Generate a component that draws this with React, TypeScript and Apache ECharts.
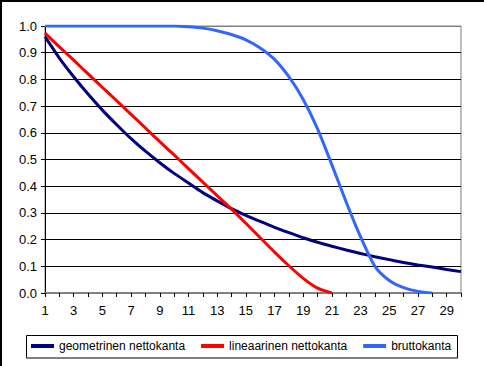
import React, { useEffect, useRef } from "react";
import * as echarts from "echarts";

const categories = Array.from({ length: 30 }, (_, i) => String(i + 1));

const geometrinen = [
  0.96, 0.88, 0.81, 0.745, 0.685, 0.63, 0.578, 0.531, 0.488, 0.448,
  0.412, 0.376, 0.345, 0.316, 0.291, 0.268, 0.246, 0.226, 0.207, 0.19,
  0.175, 0.161, 0.148, 0.136, 0.125, 0.114, 0.105, 0.097, 0.088, 0.08,
];

const lineaarinen = [
  0.973, 0.922, 0.872, 0.821, 0.77, 0.72, 0.669, 0.618, 0.567, 0.517,
  0.466, 0.415, 0.365, 0.314, 0.261, 0.207, 0.153, 0.102, 0.055, 0.018,
  0.0, null, null, null, null, null, null, null, null, null,
];

const brutto = [
  1, 1, 1, 1, 1, 1, 1, 1, 1, 1,
  0.997, 0.992, 0.982, 0.968, 0.948, 0.918, 0.875, 0.81, 0.725, 0.615,
  0.48, 0.34, 0.21, 0.1, 0.047, 0.02, 0.006, 0.0, null, null,
];

const seriesNames = ["geometrinen nettokanta", "lineaarinen nettokanta", "bruttokanta"];
const colors = ["#000080", "#FF0000", "#3366FF"];

const FONT = 'Arial, "Liberation Sans", sans-serif';

export default function App() {
  const ref = useRef<HTMLDivElement>(null);
  useEffect(() => {
    if (!ref.current) return;
    const chart = echarts.init(ref.current, undefined, { renderer: "svg" });
    const gridColors = Array.from({ length: 11 }, (_, i) => (i === 10 ? "#808080" : "#000000"));
    chart.setOption({
      animation: false,
      backgroundColor: "#ffffff",
      grid: {
        left: 45,
        top: 26,
        right: 23,
        bottom: 73,
        show: true,
        borderColor: "#808080",
        borderWidth: 1,
        containLabel: false,
      },
      legend: {
        left: 31,
        top: 340,
        padding: 0,
        itemWidth: 23,
        itemHeight: 4,
        itemGap: 16,
        icon: "rect",
        data: seriesNames,
        textStyle: { fontSize: 12, fontFamily: FONT, color: "#000" },
      },
      graphic: [
        {
          type: "rect",
          shape: { x: 1, y: 1, width: 1000, height: 1000 },
          style: { fill: "none", stroke: "#000", lineWidth: 2 },
          silent: true,
        },
        {
          type: "rect",
          shape: { x: 26.5, y: 335.5, width: 431, height: 22.5 },
          style: { fill: "none", stroke: "#000", lineWidth: 1 },
          silent: true,
        },
      ],
      xAxis: {
        type: "category",
        data: categories,
        boundaryGap: false,
        axisLine: { show: true, lineStyle: { color: "#808080", width: 2 } },
        axisTick: { show: true, interval: 0, length: 4, lineStyle: { color: "#000" } },
        axisLabel: {
          interval: 1,
          fontSize: 13,
          fontFamily: FONT,
          color: "#000",
          margin: 11,
        },
        splitLine: { show: false },
      },
      yAxis: {
        type: "value",
        min: 0,
        max: 1,
        interval: 0.1,
        axisLine: { show: true, lineStyle: { color: "#000", width: 1 } },
        axisTick: { show: true, length: 4, lineStyle: { color: "#000" } },
        axisLabel: {
          fontSize: 13,
          fontFamily: FONT,
          color: "#000",
          margin: 8,
          formatter: (v: number) => v.toFixed(1),
        },
        splitLine: { show: true, lineStyle: { color: gridColors, width: 1 } },
      },
      series: [
        { name: seriesNames[0], data: geometrinen, color: colors[0] },
        { name: seriesNames[1], data: lineaarinen, color: colors[1] },
        { name: seriesNames[2], data: brutto, color: colors[2] },
      ].map((s) => ({
        ...s,
        type: "line",
        smooth: 0.25,
        showSymbol: false,
        symbol: "none",
        lineStyle: { width: 3, color: s.color },
        itemStyle: { color: s.color },
      })),
    });
    return () => chart.dispose();
  }, []);
  return (
    <div
      ref={ref}
      style={{ position: "fixed", left: 0, top: 0, width: 484, height: 366 }}
    />
  );
}
